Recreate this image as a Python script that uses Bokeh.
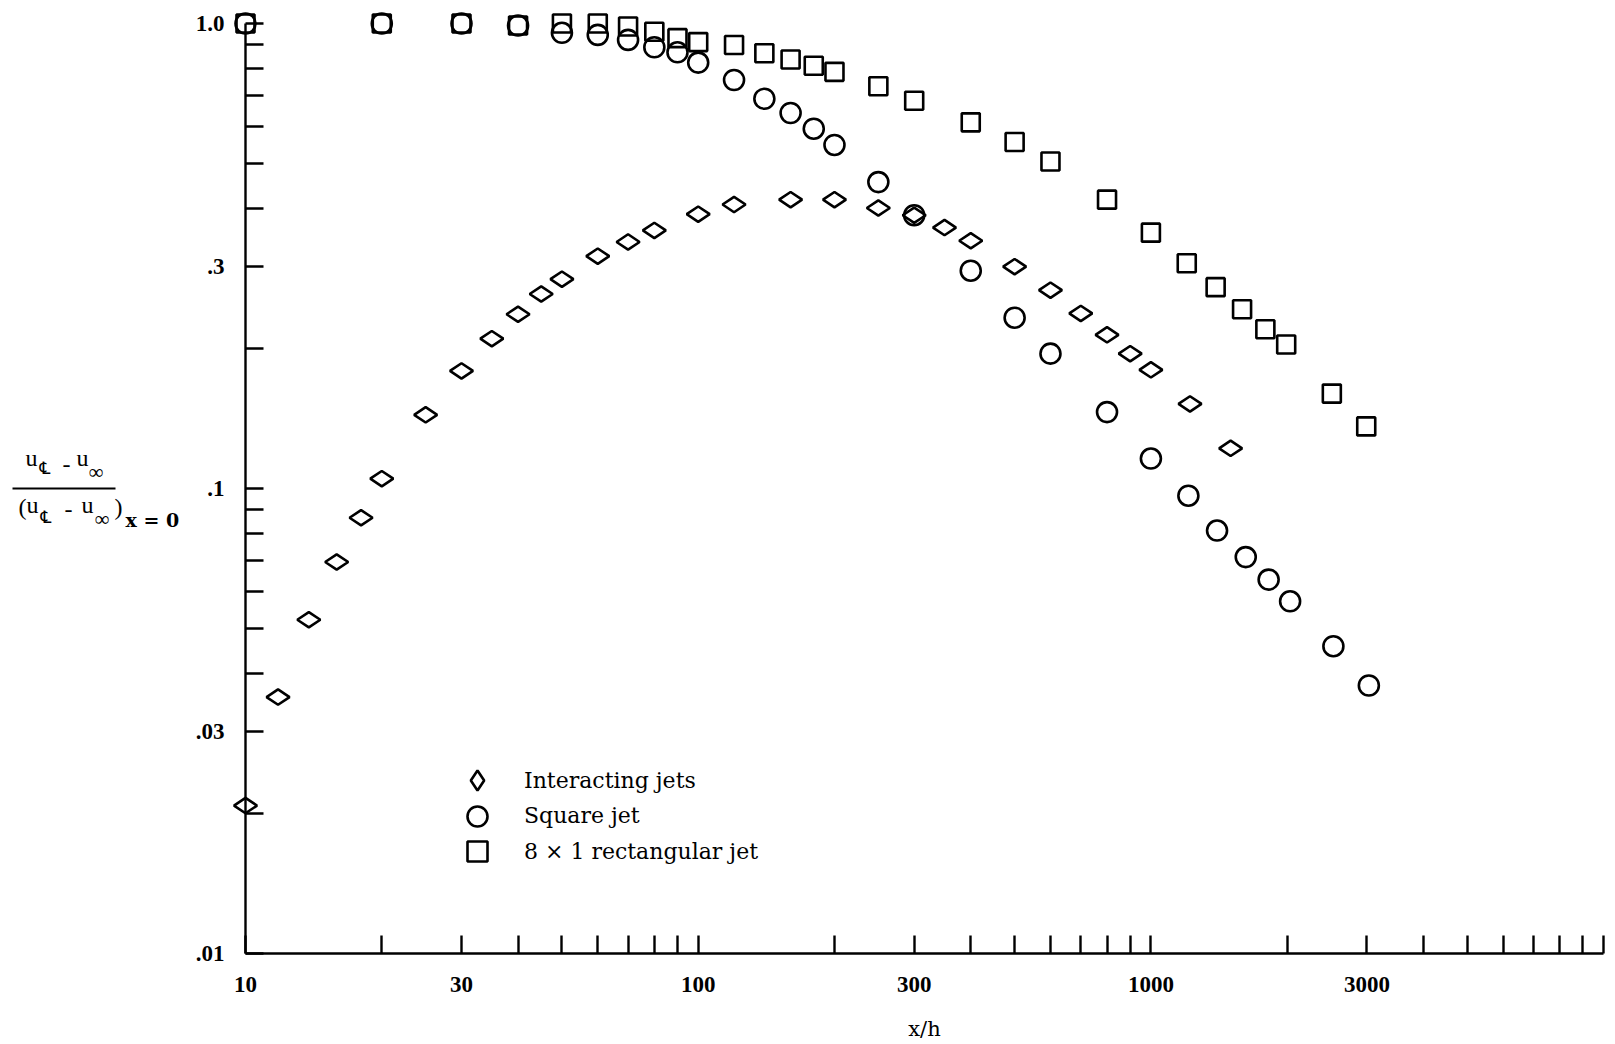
import math
from bokeh.plotting import figure
from bokeh.models import (FixedTicker, CustomJSTickFormatter, Label, Legend,
                          LegendItem, BoxAnnotation, Range1d)
from bokeh.embed import file_html
from bokeh.resources import INLINE

# ---------------- data ----------------
interacting_x = [10, 11.8, 13.8, 15.9, 18, 20, 25, 30, 35, 40, 45, 50, 60, 70, 80,
                 100, 120, 160, 200, 250, 300, 350, 400, 500, 600, 700, 800, 900,
                 1000, 1220, 1500]
interacting_y = [0.0208, 0.0356, 0.0522, 0.0695, 0.0865, 0.105, 0.144, 0.179, 0.210,
                 0.237, 0.262, 0.282, 0.316, 0.339, 0.359, 0.389, 0.408, 0.418, 0.418,
                 0.401, 0.387, 0.364, 0.341, 0.300, 0.267, 0.238, 0.214, 0.195, 0.180,
                 0.152, 0.122]

square_x = [10, 20, 30, 40, 50, 60, 70, 80, 90, 100, 120, 140, 160, 180, 200, 250,
            300, 400, 500, 600, 800, 1000, 1210, 1400, 1620, 1820, 2030, 2530, 3030]
square_y = [1.0, 1.0, 1.0, 0.99, 0.955, 0.945, 0.922, 0.889, 0.867, 0.824, 0.756,
            0.689, 0.642, 0.594, 0.548, 0.456, 0.387, 0.294, 0.233, 0.195, 0.146,
            0.116, 0.0965, 0.0812, 0.0712, 0.0637, 0.0572, 0.0458, 0.0377]

rect_x = [10, 20, 30, 40, 50, 60, 70, 80, 90, 100, 120, 140, 160, 180, 200, 250,
          300, 400, 500, 600, 800, 1000, 1200, 1390, 1590, 1790, 1990, 2510, 2990]
rect_y = [1.0, 1.0, 1.0, 0.99, 1.0, 1.0, 0.985, 0.96, 0.93, 0.912, 0.899, 0.863,
          0.837, 0.811, 0.787, 0.733, 0.682, 0.613, 0.556, 0.505, 0.418, 0.355,
          0.305, 0.271, 0.243, 0.220, 0.204, 0.160, 0.136]

series_names = ["Interacting jets", "Square jet", "8 \u00d7 1 rectangular jet"]

x_ticks = [10, 20, 30, 40, 50, 60, 70, 80, 90, 100, 200, 300, 400, 500, 600, 700,
           800, 900, 1000, 2000, 3000, 4000, 5000, 6000, 7000, 8000, 9000, 10000]
x_label_vals = [10, 30, 100, 300, 1000, 3000]
x_label_text = ["10", "30", "100", "300", "1000", "3000"]

y_ticks = [0.01, 0.02, 0.03, 0.04, 0.05, 0.06, 0.07, 0.08, 0.09, 0.1, 0.2, 0.3, 0.4,
           0.5, 0.6, 0.7, 0.8, 0.9, 1.0]
y_label_vals = [0.01, 0.03, 0.1, 0.3, 1.0]
y_label_text = [".01", ".03", ".1", ".3", "1.0"]

# ---------------- layout ----------------
W, H = 1615, 1044
PXD_X, X0PX = 452.7, 245.0   # px per decade, pixel of x = 10
PXD_Y, Y1PX = 465.0, 23.0    # px per decade, pixel of y = 1
FRAME_L, FRAME_B = 0, H

p = figure(width=W, height=H, x_axis_type="log", y_axis_type="log",
           x_range=Range1d(10 ** (1 - X0PX / PXD_X), 10 ** (1 + (W - X0PX) / PXD_X)),
           y_range=Range1d(10 ** (-(H - Y1PX) / PXD_Y), 10 ** (Y1PX / PXD_Y)),
           output_backend="svg", toolbar_location=None,
           min_border_left=0, min_border_right=0,
           min_border_top=0, min_border_bottom=0)
p.grid.visible = False
p.outline_line_color = None
p.background_fill_color = "white"
p.border_fill_color = "white"

fmt_code = """
const lt = Math.log10(tick);
for (let i = 0; i < vals.length; i++) {
  if (Math.abs(Math.log10(vals[i]) - lt) < 1e-6) return labs[i];
}
return "";
"""

xa = p.xaxis[0]
ya = p.yaxis[0]
xa.ticker = FixedTicker(ticks=x_ticks)
ya.ticker = FixedTicker(ticks=y_ticks)
xa.formatter = CustomJSTickFormatter(args=dict(vals=x_label_vals, labs=x_label_text), code=fmt_code)
ya.formatter = CustomJSTickFormatter(args=dict(vals=y_label_vals, labs=y_label_text), code=fmt_code)
xa.fixed_location = 0.01
ya.fixed_location = 10
xa.bounds = (10, 10000)
ya.bounds = (0.01, 1.0)
for ax in (xa, ya):
    ax.major_tick_in = 18
    ax.major_tick_out = 0
    ax.minor_tick_in = 0
    ax.minor_tick_out = 0
    ax.axis_line_width = 2.4
    ax.axis_line_color = "black"
    ax.major_tick_line_width = 2.4
    ax.major_tick_line_color = "black"
    ax.major_label_text_font = "Liberation Serif"
    ax.major_label_text_font_size = "23px"
    ax.major_label_text_font_style = "bold"
    ax.major_label_text_color = "black"
xa.major_label_standoff = 23
ya.major_label_standoff = 21
xa.axis_label = "x/h"
xa.axis_label_text_font = "DejaVu Serif"
xa.axis_label_text_font_size = "21px"
xa.axis_label_text_font_style = "normal"
xa.axis_label_text_color = "black"
xa.axis_label_standoff = 22

style = dict(fill_color=None, line_color="black", line_width=2.6)
r1 = p.scatter(interacting_x, interacting_y, marker="diamond", size=23,
               angle=math.pi / 2, **style)
r2 = p.scatter(square_x, square_y, marker="circle", size=20, **style)
r3 = p.scatter(rect_x, rect_y, marker="square", size=18, **style)

# legend: one Legend per entry so rows can sit 35 px apart with large keys
for i, rr in enumerate([r1, r2, r3]):
    top = 755 + 35.5 * i
    p.add_layout(Legend(items=[LegendItem(label=series_names[i], renderers=[rr])],
                        location=(452 - FRAME_L, FRAME_B - (top + 50)),
                        glyph_width=50, glyph_height=50, padding=0, margin=0,
                        label_standoff=22, border_line_color=None,
                        background_fill_alpha=0, label_text_font="DejaVu Serif",
                        label_text_font_size="22px", label_text_color="black"))

# ---------------- y-axis title (fraction) ----------------
def lab(text, fx, fy, size=24, style="normal", font="Liberation Serif"):
    p.add_layout(Label(x=fx - FRAME_L, y=FRAME_B - fy, x_units="screen", y_units="screen",
                       text=text, text_font=font, text_font_size=f"{size}px",
                       text_font_style=style, text_baseline="middle", text_align="left",
                       text_color="black"))

# numerator
lab("u", 25, 457)
lab("\u2104", 39, 467, 17, font="DejaVu Sans")
lab("-", 62, 464)
lab("u", 76, 457)
lab("\u221e", 88, 471, 21)
# fraction bar
p.add_layout(BoxAnnotation(left=12 - FRAME_L, right=115 - FRAME_L,
                           top=FRAME_B - 487, bottom=FRAME_B - 489,
                           left_units="screen", right_units="screen",
                           top_units="screen", bottom_units="screen",
                           fill_color="black", fill_alpha=1, line_color=None))
# denominator
lab("(", 18, 506)
lab("u", 26, 504)
lab("\u2104", 40, 516, 17, font="DejaVu Sans")
lab("-", 64, 509)
lab("u", 81, 504)
lab("\u221e", 94, 518, 21)
lab(")", 114, 506)
lab("x = 0", 125, 519, 19, "bold", "DejaVu Serif")

open("out.html", "w").write(file_html(p, INLINE))
